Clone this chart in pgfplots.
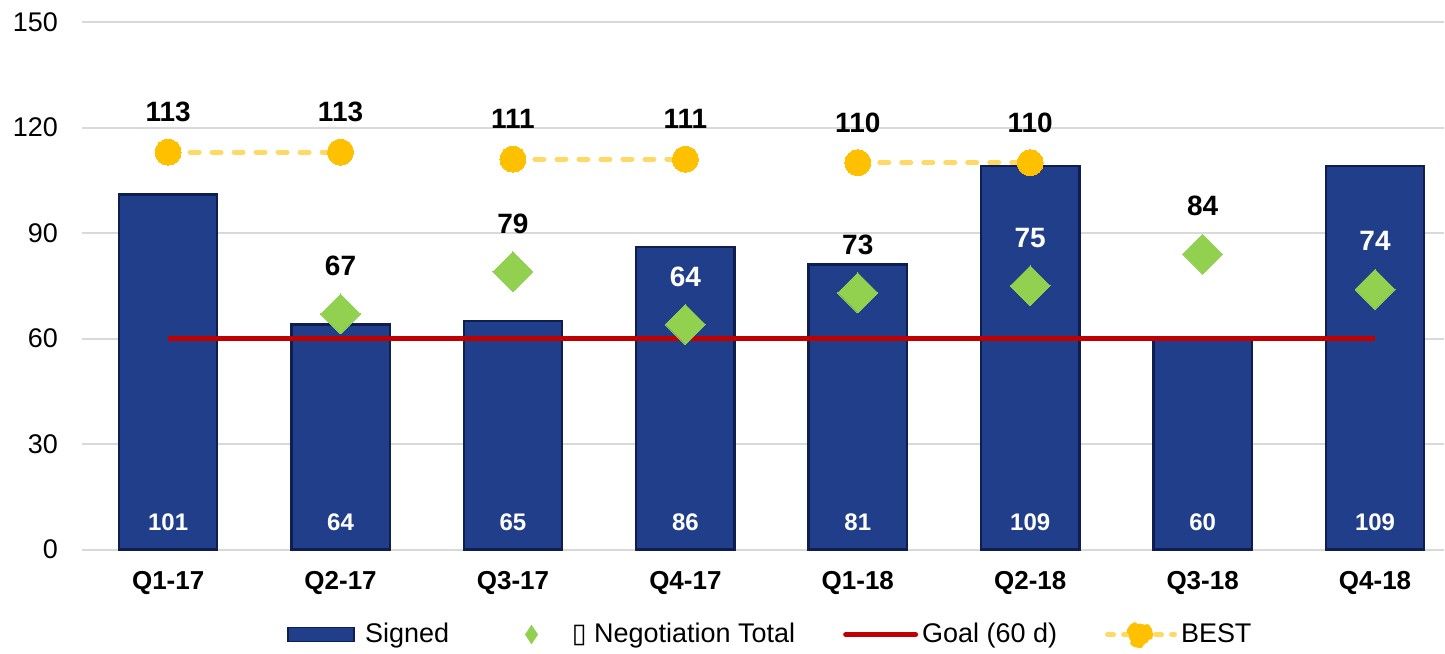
\documentclass[border=0pt]{standalone}
\usepackage{pgfplots}
\pgfplotsset{compat=1.18}
\usepackage{pgfplotstable}
\usepackage{fontspec}
\setmainfont{Liberation Sans}
\newfontfamily\dejavu{DejaVu Sans}
\definecolor{barblue}{RGB}{33,62,138}
\definecolor{bardark}{RGB}{14,30,80}
\definecolor{diagreen}{RGB}{146,208,80}
\definecolor{goalred}{RGB}{192,0,0}
\definecolor{bestdot}{RGB}{255,192,0}
\definecolor{bestline}{RGB}{255,217,102}
\definecolor{gridgray}{RGB}{217,217,217}

\pgfplotstableread{
x y
0 101
1 64
2 65
3 86
4 81
5 109
6 60
7 109
}\signed
\pgfplotstableread{
x y
1 67
2 79
4 73
6 84
}\negblack
\pgfplotstableread{
x y
3 64
5 75
7 74
}\negwhite
\pgfplotstableread{
x y
0 60
7 60
}\goal
\pgfplotstableread{
x y
0 113
1 113
1.5 nan
2 111
3 111
3.5 nan
4 110
5 110
}\best

\begin{document}
\begin{tikzpicture}
\begin{axis}[
  name=ax,
  scale only axis,
  width=681.5pt, height=264pt,
  xmin=-0.5, xmax=7.4,
  ymin=0, ymax=150,
  ytick={0,30,60,90,120,150},
  xtick={0,...,7},
  xticklabels={Q1-17,Q2-17,Q3-17,Q4-17,Q1-18,Q2-18,Q3-18,Q4-18},
  xticklabel style={font=\fontsize{13}{15}\selectfont\bfseries, yshift=-7.5pt},
  yticklabel style={font=\fontsize{13.5}{16}\selectfont, xshift=-8.5pt},
  /pgf/number format/assume math mode=true,
  major tick length=0pt,
  axis line style={draw=none},
  ymajorgrids,
  grid style={gridgray, line width=1pt},
  clip=false,
  unbounded coords=jump,
  legend columns=4,
  legend style={draw=none, fill=none, at={(0.506,-0.161)}, anchor=center,
    font=\fontsize{13.5}{16}\selectfont,
    /tikz/every even column/.append style={column sep=22pt}},
  legend cell align=left,
]
% Bars
\addplot[ybar, bar width=0.57, fill=barblue, draw=bardark, line width=1.2pt,
  legend image code/.code={\draw[fill=barblue, draw=bardark, line width=0.8pt] (0pt,-3.5pt) rectangle (33pt,3.5pt); \path (0pt,0pt) (36pt,0pt);}]
  table[x=x,y=y]{\signed};
\addlegendentry{Signed}
% Bar value labels
\addplot[draw=none, forget plot, nodes near coords, point meta=explicit,
  nodes near coords style={anchor=center, yshift=13.5pt, text=white, font=\fontsize{12}{14}\selectfont\bfseries}]
  table[x=x, y expr=0, meta=y]{\signed};
% Negotiation diamonds
\addplot[diagreen, only marks, mark=square*, mark size=7.07pt, mark options={rotate=45, fill=diagreen, draw=diagreen, line width=0pt},
  nodes near coords, point meta=explicit,
  nodes near coords style={anchor=center, yshift=24pt, text=black, font=\fontsize{14}{16}\selectfont\bfseries},
  legend image code/.code={\fill[diagreen] (17pt,4.5pt) -- (20pt,0pt) -- (17pt,-4.5pt) -- (14pt,0pt) -- cycle; \path (0pt,0pt) (35pt,0pt);}]
  table[x=x,y=y,meta=y]{\negblack};
\addlegendentry{{\dejavu ▯} Negotiation Total}
\addplot[diagreen, only marks, forget plot, mark=square*, mark size=7.07pt, mark options={rotate=45, fill=diagreen, draw=diagreen, line width=0pt},
  nodes near coords, point meta=explicit,
  nodes near coords style={anchor=center, yshift=24pt, text=white, font=\fontsize{14}{16}\selectfont\bfseries}]
  table[x=x,y=y,meta=y]{\negwhite};
% Goal
\addplot[goalred, line width=2.5pt, no marks,
  legend image code/.code={\draw[goalred, line width=2.5pt, line cap=round] (0pt,0pt) -- (35pt,0pt);}]
  table[x=x,y=y]{\goal};
\addlegendentry{Goal (60 d)}
% BEST
\addplot[bestline, line width=2.5pt, dash pattern=on 4.5pt off 6.5pt, line cap=round,
  mark=*, mark size=6.5pt, mark options={solid, fill=bestdot, draw=bestdot, line width=0pt},
  nodes near coords, point meta=explicit,
  nodes near coords style={anchor=center, yshift=20pt, text=black, font=\fontsize{14}{16}\selectfont\bfseries},
  legend image code/.code={\draw[bestline, line width=2.5pt, dash pattern=on 3pt off 5pt, line cap=round] (1.5pt,0pt) -- (35pt,0pt); \fill[bestdot] (17.5pt,0pt) circle (5.5pt);}]
  table[x=x,y=y,meta=y]{\best};
\addlegendentry{BEST}
\end{axis}
\path ([xshift=-41pt,yshift=11pt]ax.north west) rectangle ([yshift=-51pt]ax.south east);
\end{tikzpicture}
\end{document}
